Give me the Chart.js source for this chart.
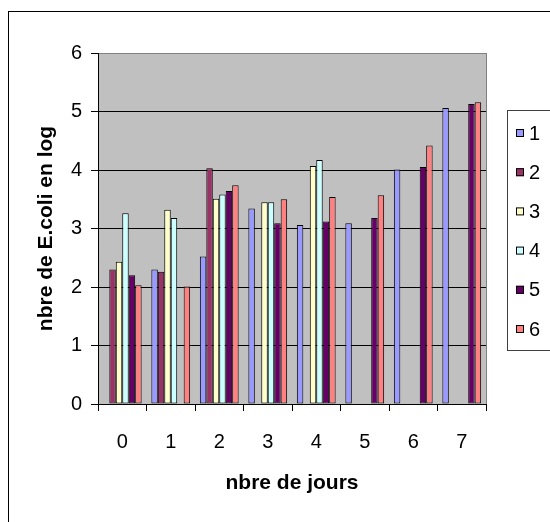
<!DOCTYPE html>
<html>
<head>
<meta charset="utf-8">
<script src="https://cdn.jsdelivr.net/npm/chart.js@4/dist/chart.umd.min.js"></script>
<style>
  html, body { margin: 0; padding: 0; background: #ffffff; }
  canvas { display: block; }
</style>
</head>
<body>
<canvas id="chart" width="550" height="522"></canvas>
<script>
// Days of measurement (x axis)
const days = ['0', '1', '2', '3', '4', '5', '6', '7'];

// E. coli counts (log) per sample, one array per series; null = no measurement
const serie1 = [null, 2.30, 2.52, 3.34, 3.06, 3.09, 4.01, 5.06];
const serie2 = [2.30, 2.26, 4.03, null, null, null, null, null];
const serie3 = [2.43, 3.32, 3.51, 3.45, 4.07, null, null, null];
const serie4 = [3.26, 3.18, 3.58, 3.45, 4.17, null, null, null];
const serie5 = [2.20, null, 3.64, 3.09, 3.12, 3.18, 4.05, 5.13];
const serie6 = [2.03, 2.01, 3.74, 3.50, 3.54, 3.57, 4.42, 5.16];

const seriesNames = ['1', '2', '3', '4', '5', '6'];
const seriesValues = [serie1, serie2, serie3, serie4, serie5, serie6];
const seriesColors = ['#9999FF', '#993366', '#FFFFCC', '#CCFFFF', '#660066', '#FF8080'];

const yTicks = [0, 1, 2, 3, 4, 5, 6];

const FONT = '"Liberation Sans", Arial, sans-serif';

// Grey plot background, outer frame and plot edge
const frame = {
  id: 'frame',
  beforeDraw(chart) {
    const { ctx, chartArea: a } = chart;
    ctx.save();
    ctx.fillStyle = '#ffffff';
    ctx.fillRect(0, 0, chart.width, chart.height);
    ctx.fillStyle = '#C0C0C0';
    ctx.fillRect(a.left, a.top, a.right - a.left, a.bottom - a.top);
    ctx.strokeStyle = '#808080';
    ctx.lineWidth = 1;
    ctx.beginPath();
    ctx.moveTo(a.right + 0.5, a.top);
    ctx.lineTo(a.right + 0.5, a.bottom);
    ctx.stroke();
    ctx.strokeStyle = '#000000';
    ctx.strokeRect(8.5, 11.5, 600, 600);
    ctx.restore();
  }
};

// Boxed legend on the right side
const sideLegend = {
  id: 'sideLegend',
  afterDraw(chart) {
    const { ctx } = chart;
    const boxLeft = 507.5, boxTop = 110.5, boxBottom = 350.5;
    const firstY = 133, step = 39.2;
    ctx.save();
    ctx.strokeStyle = '#404040';
    ctx.lineWidth = 1;
    ctx.strokeRect(boxLeft, boxTop, 100, boxBottom - boxTop);
    ctx.font = '20px ' + FONT;
    ctx.textBaseline = 'middle';
    ctx.textAlign = 'left';
    chart.data.datasets.forEach((ds, i) => {
      const cy = firstY + i * step;
      ctx.fillStyle = ds.backgroundColor;
      ctx.fillRect(516, cy - 4, 8, 8);
      ctx.strokeStyle = '#000000';
      ctx.strokeRect(516.5, cy - 3.5, 7, 7);
      ctx.fillStyle = '#000000';
      ctx.fillText(ds.label, 529, cy + 1);
    });
    ctx.restore();
  }
};

new Chart(document.getElementById('chart'), {
  type: 'bar',
  data: {
    labels: days,
    datasets: seriesNames.map((name, i) => ({
      label: name,
      data: seriesValues[i],
      backgroundColor: seriesColors[i],
      borderColor: '#000000',
      borderWidth: 1,
      borderSkipped: false,
      categoryPercentage: 0.8,
      barPercentage: 1.0
    }))
  },
  options: {
    responsive: false,
    animation: false,
    events: [],
    layout: { padding: { left: 0, top: 53, right: 64, bottom: 0 } },
    plugins: {
      legend: { display: false },
      tooltip: { enabled: false }
    },
    scales: {
      x: {
        afterFit(scale) { scale.height = 118; },
        grid: {
          offset: true,
          drawOnChartArea: false,
          drawTicks: true,
          tickLength: 7,
          color: '#000000'
        },
        border: { display: true, color: '#000000', width: 1 },
        ticks: {
          color: '#000000',
          font: { family: FONT, size: 20 },
          padding: 19,
          maxRotation: 0
        },
        title: {
          display: true,
          text: 'nbre de jours',
          color: '#000000',
          font: { family: FONT, size: 21, weight: 'bold' },
          padding: { top: 0, bottom: 25.7 }
        }
      },
      y: {
        min: yTicks[0],
        max: yTicks[yTicks.length - 1],
        afterFit(scale) { scale.width = 98; },
        afterBuildTicks(scale) { scale.ticks = yTicks.map(v => ({ value: v })); },
        grid: {
          color: ctx => (ctx.tick && ctx.tick.value === 6 ? '#808080' : '#000000'),
          tickColor: '#000000',
          tickLength: 7,
          lineWidth: 1
        },
        border: { display: true, color: '#000000', width: 1 },
        ticks: {
          color: '#000000',
          font: { family: FONT, size: 20 },
          padding: 9
        },
        title: {
          display: true,
          text: 'nbre de E.coli en log',
          color: '#000000',
          font: { family: FONT, size: 21, weight: 'bold' },
          padding: { top: 33.4, bottom: 0 }
        }
      }
    }
  },
  plugins: [frame, sideLegend]
});
</script>
</body>
</html>
